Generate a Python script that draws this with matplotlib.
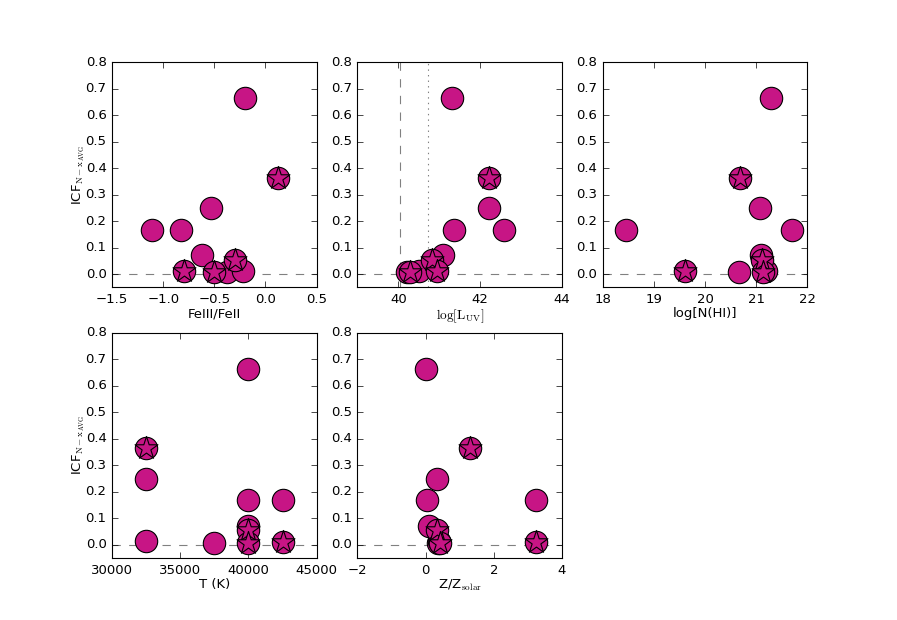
import matplotlib
matplotlib.use("Agg")
import matplotlib.pyplot as plt

# ICF values, same object order in every panel
icf = [0.663, 0.363, 0.248, 0.167, 0.167, 0.072, 0.055, 0.012, 0.007, 0.008, 0.013]
is_star = [False, True, False, False, False, False, True, True, True, False, False]

fe_ratio = [-0.20, 0.12, -0.53, -1.11, -0.83, -0.62, -0.30, -0.80, -0.50, -0.38, -0.22]
log_luv = [41.32, 42.22, 42.22, 41.37, 42.58, 41.08, 40.82, 40.95, 40.28, 40.22, 40.50]
log_nhi = [21.29, 20.69, 21.07, 18.45, 21.71, 21.10, 21.12, 19.60, 21.14, 20.66, 21.20]
temp = [40000, 32500, 32500, 40000, 42500, 40000, 40000, 42500, 40000, 37500, 32500]
metal = [0.02, 1.31, 0.33, 0.04, 3.25, 0.09, 0.33, 3.25, 0.41, 0.36, 0.40]

xvals = [fe_ratio, log_luv, log_nhi, temp, metal]
xlabels = ["FeIII/FeII", r"$\log[\rm L_{UV}]$", "log[N(HI)]", "T (K)", r"Z/Z$_{\rm solar}$"]
xlims = [(-1.5, 0.5), (39, 44), (18, 22), (30000, 45000), (-2, 4)]
xticks = [[-1.5, -1.0, -0.5, 0.0, 0.5], [40, 42, 44], [18, 19, 20, 21, 22],
          [30000, 35000, 40000, 45000], [-2, 0, 2, 4]]

plt.style.use('classic')
plt.rcParams['font.size'] = 9.5
plt.rcParams['mathtext.fontset'] = 'cm'
plt.rcParams['figure.facecolor'] = 'white'
plt.rcParams['savefig.facecolor'] = 'white'

color = '#C71585'
fig = plt.figure(figsize=(8.97, 6.2))
plt.subplots_adjust(left=0.125, right=0.9, top=0.9, bottom=0.1, wspace=0.2, hspace=0.2)

for i in range(5):
    ax = plt.subplot(2, 3, i + 1)
    xs = xvals[i]
    cx = [x for x, s in zip(xs, is_star) if not s]
    cy = [y for y, s in zip(icf, is_star) if not s]
    sx = [x for x, s in zip(xs, is_star) if s]
    sy = [y for y, s in zip(icf, is_star) if s]
    ax.axhline(0, color='grey', linestyle='--', linewidth=0.8, zorder=1)
    if i == 1:
        ax.axvline(40.03, color='grey', linestyle='--', linewidth=0.8, zorder=1)
        ax.axvline(40.72, color='grey', linestyle=':', linewidth=0.8, zorder=1)
    ax.scatter(cx, cy, s=260, c=color, edgecolors='black', linewidths=0.8, zorder=3)
    ax.scatter(sx, sy, s=260, c=color, edgecolors='black', linewidths=0.8, zorder=3)
    ax.scatter(sx, sy, s=300, marker='*', c=color, edgecolors='black', linewidths=0.8, zorder=4)
    ax.set_xlim(xlims[i])
    ax.set_xticks(xticks[i])
    ax.set_ylim(-0.05, 0.8)
    ax.set_yticks([0.0, 0.1, 0.2, 0.3, 0.4, 0.5, 0.6, 0.7, 0.8])
    ax.set_xlabel(xlabels[i], labelpad=1)
    if i in (0, 3):
        ax.set_ylabel(r"ICF$_{\rm N-x_{AVG}}$", labelpad=-1)
    for spine in ax.spines.values():
        spine.set_linewidth(0.8)

plt.savefig("out.png", dpi=100)
